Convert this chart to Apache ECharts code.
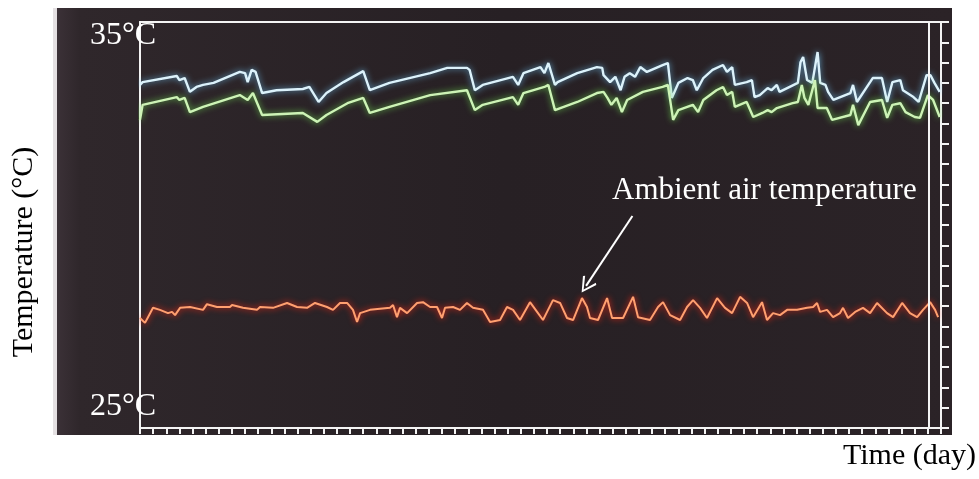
<!DOCTYPE html>
<html>
<head>
<meta charset="utf-8">
<script src="https://cdn.jsdelivr.net/npm/echarts@6/dist/echarts.min.js"></script>
<style>
html,body{margin:0;padding:0;background:#fff;}
#chart{width:979px;height:479px;}
</style>
</head>
<body>
<div id="chart"></div>
<script>
// ---- data (day, °C) ----
const upperProbe = [
[0,33.45],[0.2,33.52],[2.8,33.67],[3.0,33.57],[3.4,33.62],[3.8,33.28],[4.3,33.40],[4.8,33.45],[5.6,33.50],
[7.6,33.77],[8.0,33.74],[8.2,33.52],[8.5,33.82],[8.8,33.77],[9.3,33.25],[10.4,33.32],[12.4,33.35],[12.9,33.40],
[13.6,33.03],[14.2,33.25],[15.5,33.52],[17.0,33.79],[17.5,33.32],[19.0,33.50],[22.1,33.74],[23.4,33.87],[24.9,33.87],
[25.1,33.82],[25.5,33.32],[26.1,33.45],[28.4,33.65],[28.8,33.45],[29.2,33.74],[30.5,33.89],[30.8,33.74],[31.1,33.99],
[31.6,33.45],[31.8,33.52],[33.3,33.74],[34.8,33.89],[35.2,33.87],[35.3,33.69],[35.8,33.52],[36.2,33.65],[36.6,33.32],
[36.9,33.65],[37.3,33.74],[37.7,33.65],[38.1,33.89],[38.6,33.77],[39.8,33.94],[40.2,33.99],[40.5,33.13],[41.0,33.50],
[41.7,33.62],[42.1,33.57],[42.4,33.32],[42.9,33.62],[43.6,33.82],[44.4,33.94],[44.7,33.77],[45.1,33.89],[45.3,33.45],
[46.2,33.52],[46.6,33.57],[46.8,33.15],[47.2,33.20],[47.8,33.37],[48.1,33.32],[48.5,33.45],[48.7,33.28],[50.1,33.50],
[50.3,34.01],[50.5,34.14],[50.8,33.57],[51.2,33.50],[51.6,34.26],[51.8,33.50],[52.2,33.45],[52.4,33.28],[52.8,33.08],
[54.1,33.25],[54.3,33.45],[54.6,33.03],[55.6,33.52],[55.8,33.62],[56.5,33.62],[56.9,33.03],[57.3,33.52],[57.9,33.57],
[58.1,33.32],[58.9,33.15],[59.3,33.03],[59.9,33.69],[60.2,33.69],[60.5,33.50],[60.9,33.28]
];
const lowerProbe = [
[0,32.59],[0.2,32.96],[2.8,33.15],[3.0,33.08],[3.4,33.13],[3.8,32.78],[4.8,32.91],[7.6,33.20],[8.2,33.08],[8.6,33.25],
[9.3,32.71],[12.4,32.76],[13.5,32.54],[14.2,32.71],[15.8,33.00],[17.0,33.13],[17.5,32.76],[19.0,32.91],[22.1,33.20],
[24.9,33.32],[25.5,32.83],[26.1,32.96],[28.4,33.15],[28.8,32.96],[29.2,33.25],[30.8,33.40],[31.1,33.45],[31.6,32.83],
[33.3,33.03],[34.8,33.25],[35.3,33.28],[35.6,33.13],[35.9,32.96],[36.3,33.13],[36.7,32.78],[37.1,33.08],[38.3,33.28],
[39.8,33.40],[40.2,33.45],[40.6,32.59],[41.0,32.83],[42.1,32.96],[42.5,32.78],[42.9,33.08],[43.9,33.32],[44.4,33.40],
[44.7,33.20],[45.1,33.28],[45.3,32.91],[46.2,33.03],[46.7,32.66],[47.4,32.76],[47.8,32.83],[48.1,32.78],[48.5,32.88],
[49.7,33.00],[50.1,33.03],[50.4,33.45],[50.6,33.13],[50.9,32.96],[51.4,33.57],[51.6,32.88],[52.3,32.88],[52.7,32.59],
[54.1,32.71],[54.3,32.96],[54.7,32.46],[55.6,33.03],[56.5,33.08],[56.9,32.64],[57.3,32.96],[57.9,33.00],[58.3,32.78],
[59.0,32.66],[59.4,32.64],[60.0,33.20],[60.4,33.08],[60.9,32.66]
];
const ambient = [
[0,27.71],[0.38,27.59],[0.61,27.73],[0.99,27.96],[1.52,27.91],[2.13,27.83],[2.44,27.86],[2.67,27.78],[3.05,27.96],
[3.81,27.98],[4.80,27.91],[5.10,28.05],[5.86,27.98],[6.85,27.98],[7.01,28.03],[7.84,27.96],[8.91,27.91],[9.14,27.98],
[10.13,27.96],[11.20,28.08],[11.96,27.98],[12.72,27.96],[13.33,28.08],[14.24,27.98],[14.70,27.91],[15.23,28.08],
[15.77,28.08],[16.22,27.91],[16.53,27.61],[16.76,27.83],[17.52,27.91],[19.04,27.96],[19.27,28.03],[19.57,27.73],
[19.80,27.96],[20.34,27.83],[21.10,28.08],[21.55,28.10],[22.09,27.98],[22.62,27.98],[23.00,27.71],[23.23,27.96],
[23.84,27.98],[24.37,27.91],[24.90,28.08],[25.36,27.96],[26.12,27.91],[26.66,27.61],[27.42,27.66],[27.95,27.98],
[28.41,27.91],[28.94,27.66],[29.70,28.10],[30.24,27.86],[30.69,27.66],[31.00,27.86],[31.45,28.15],[31.99,28.08],
[32.52,27.71],[32.98,27.66],[33.66,28.20],[34.04,27.98],[34.27,27.71],[34.88,27.66],[35.57,28.20],[35.95,27.71],
[36.79,27.71],[37.55,28.23],[37.93,27.73],[38.84,27.66],[39.45,27.98],[39.83,28.10],[40.37,27.78],[41.13,27.66],
[41.66,27.98],[42.12,28.15],[42.65,27.96],[43.18,27.71],[43.95,28.20],[44.55,27.96],[45.09,27.83],[45.70,28.23],
[46.23,28.08],[46.69,27.73],[47.37,28.10],[47.75,27.66],[48.21,27.83],[48.74,27.78],[49.28,27.91],[50.04,27.91],
[50.80,27.96],[51.26,27.98],[51.56,28.08],[51.79,27.86],[52.32,27.91],[52.78,27.73],[53.31,27.83],[53.54,27.96],
[53.92,27.71],[54.46,27.86],[55.06,27.96],[55.60,27.83],[56.13,28.08],[56.89,27.83],[57.35,27.73],[58.04,28.08],
[58.64,27.83],[59.18,27.73],[59.63,27.91],[60.17,28.10],[60.55,27.91],[60.78,27.73]
];
const yTickLabels = ['35°C', '25°C'];
const yRange = [25, 35];
const xRange = [0, 61];
const cursorDay = 60.1;
const arrowFrom = [37.5, 30.22];
const arrowTo = [33.97, 28.50];
const annotation = 'Ambient air temperature';
const yTitle = 'Temperature (°C)';
const xTitle = 'Time (day)';

const chart = echarts.init(document.getElementById('chart'));
const white = '#f4f4f4';
const serif = '"Liberation Serif","DejaVu Serif",serif';

chart.setOption({
  backgroundColor: '#ffffff',
  animation: false,
  grid: { left: 140, right: 38, top: 22, bottom: 51 },
  xAxis: [
    { type: 'value', min: xRange[0], max: xRange[1], interval: 1, position: 'bottom',
      axisLine: { onZero: false, lineStyle: { color: white, width: 2 } },
      axisTick: { length: 6, lineStyle: { color: white, width: 2 } },
      axisLabel: { show: false }, splitLine: { show: false } },
    { type: 'value', min: xRange[0], max: xRange[1], position: 'top',
      axisLine: { onZero: false, lineStyle: { color: white, width: 2 } },
      axisTick: { show: false }, axisLabel: { show: false }, splitLine: { show: false } }
  ],
  yAxis: [
    { type: 'value', min: yRange[0], max: yRange[1], interval: 0.5, position: 'left',
      axisLine: { show: true, onZero: false, lineStyle: { color: white, width: 2 } },
      axisTick: { show: false }, axisLabel: { show: false }, splitLine: { show: false } },
    { type: 'value', min: yRange[0], max: yRange[1], interval: 0.5, position: 'right',
      axisLine: { show: true, onZero: false, lineStyle: { color: white, width: 2 } },
      axisTick: { show: true, length: 8, lineStyle: { color: white, width: 2 } },
      axisLabel: { show: false }, splitLine: { show: false } }
  ],
  graphic: [
    { type: 'rect', z: -10, shape: { x: 57, y: 8, width: 895, height: 427 },
      style: { fill: new echarts.graphic.LinearGradient(0, 0, 1, 0, [
        { offset: 0, color: '#3b3137' }, { offset: 0.025, color: '#2f272b' },
        { offset: 0.5, color: '#272024' }, { offset: 1, color: '#2b2327' }]) } },
    { type: 'rect', z: -9, shape: { x: 53, y: 8, width: 4, height: 427 },
      style: { fill: '#e4e0e2' } },
    { type: 'text', z: 10, style: { x: 90, y: 36, text: yTickLabels[0], fill: '#ffffff',
      font: '32px ' + serif, verticalAlign: 'middle', align: 'left' } },
    { type: 'text', z: 10, style: { x: 90, y: 407, text: yTickLabels[1], fill: '#ffffff',
      font: '32px ' + serif, verticalAlign: 'middle', align: 'left' } },
    { type: 'text', z: 10, x: 24, y: 252, rotation: Math.PI / 2,
      style: { x: 0, y: 0, text: yTitle, fill: '#000000', font: '30px ' + serif,
      verticalAlign: 'middle', align: 'center' } },
    { type: 'text', z: 10, style: { x: 843, y: 456, text: xTitle, fill: '#000000',
      font: '30px ' + serif, verticalAlign: 'middle', align: 'left' } },
    { type: 'text', z: 10, style: { x: 612, y: 191, text: annotation, fill: '#ffffff',
      font: '31px ' + serif, verticalAlign: 'middle', align: 'left' } }
  ],
  series: [
    { name: 'Upper probe', type: 'line', data: upperProbe, symbol: 'none', smooth: false,
      lineStyle: { color: '#dcf2fb', width: 2.4, shadowColor: 'rgba(110,190,235,0.9)', shadowBlur: 6 },
      markLine: { silent: true, symbol: ['none', 'none'], label: { show: false },
        lineStyle: { color: white, width: 2, type: 'solid' },
        data: [{ xAxis: cursorDay }] } },
    { name: 'Lower probe', type: 'line', data: lowerProbe, symbol: 'none', smooth: false,
      lineStyle: { color: '#cdf3b6', width: 2.4, shadowColor: 'rgba(110,220,80,0.9)', shadowBlur: 6 } },
    { name: 'Ambient air temperature', type: 'line', data: ambient, symbol: 'none', smooth: false,
      lineStyle: { color: '#ffa070', width: 2, shadowColor: 'rgba(255,40,20,1)', shadowBlur: 6 },
      markLine: { silent: true,
        symbol: ['none', 'path://M0,0 L10,14 L8,15.5 L0,3.5 L-8,15.5 L-10,14 Z'],
        symbolSize: [16, 16], label: { show: false },
        itemStyle: { color: '#ffffff' },
        lineStyle: { color: '#ffffff', width: 2, type: 'solid', shadowBlur: 0 },
        data: [[{ coord: arrowFrom }, { coord: arrowTo }]] } }
  ]
});
</script>
</body>
</html>
